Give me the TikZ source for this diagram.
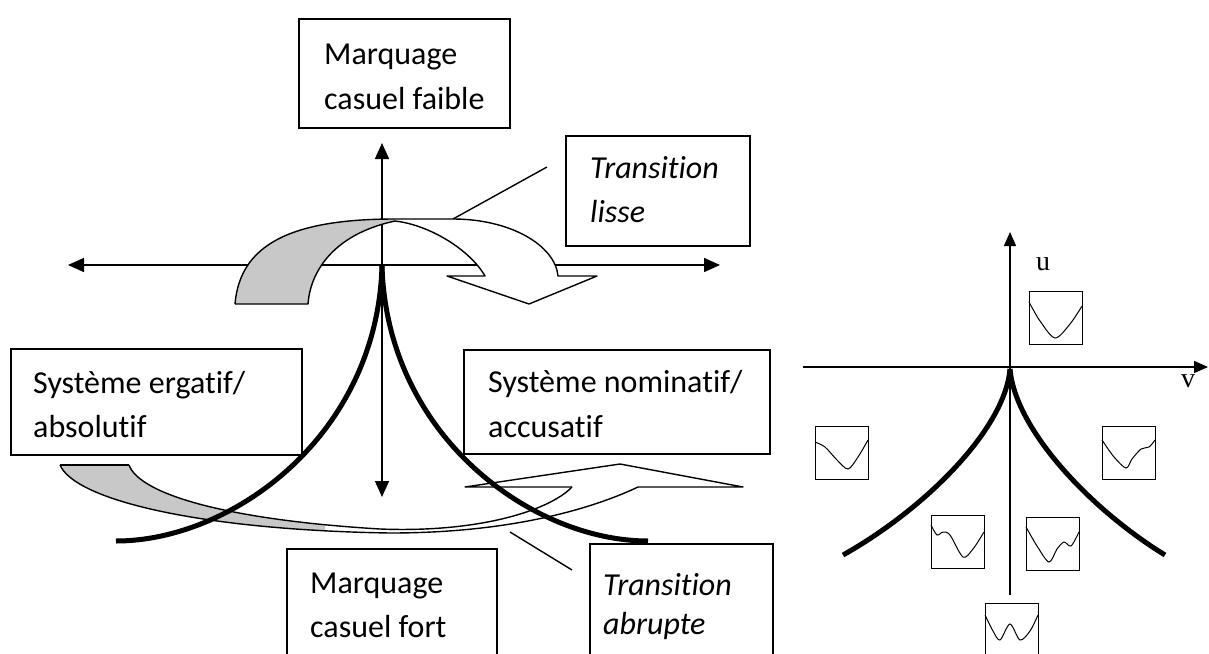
\documentclass[tikz,border=0pt]{standalone}
\usepackage{fontspec}
\setmainfont{Carlito}[Ligatures=NoCommon]
\newfontfamily\serifuv{Liberation Serif}
\usetikzlibrary{arrows.meta}
\definecolor{band}{RGB}{200,200,200}
\begin{document}
\begin{tikzpicture}[x=1pt,y=-1pt,
  frame/.style={draw, line width=1.6pt, inner sep=0pt, outer sep=0pt, anchor=north west},
  lab/.style={anchor=base west, inner sep=0pt, font=\fontsize{32}{44}\selectfont},
  ilab/.style={lab, font=\fontsize{32}{44}\selectfont\itshape},
  axis/.style={line width=1.5pt, {Triangle[length=16pt,width=14pt]}-{Triangle[length=16pt,width=14pt]}},
  raxis/.style={line width=1.5pt, -{Triangle[length=14pt,width=12pt]}},
  thin/.style={line width=1.4pt, line join=round},
  cusp/.style={line width=5pt},
  wbox/.style={draw, line width=1.3pt, minimum width=53pt, minimum height=53pt, inner sep=0pt, anchor=north west},
  pot/.style={line width=1pt}
]
\useasboundingbox (0,0) rectangle (1209,653);

% ---------------- left diagram ----------------
\coordinate (W) at (68,265);
\coordinate (E) at (720,265);
\coordinate (N) at (382,143);
\coordinate (S) at (382,497);
\coordinate (O) at (382,266);
\draw[axis] (W) -- (E);
\draw[axis] (S) -- (N);

% smooth transition arrow (upper)
\fill[band] (235,304) -- (308,304) .. controls (310,275) and (330,235) .. (395,221)
   -- (395,219) .. controls (290,219) and (240,245) .. (235,304) -- cycle;
\draw[thin] (235,304) -- (308,304) .. controls (310,275) and (330,235) .. (395,221);
\draw[thin] (235,304) .. controls (240,245) and (290,219) .. (395,219);
\filldraw[thin, fill=white] (395,219) -- (453,219) .. controls (510,219) and (555,245) .. (558,276)
   -- (597,276) -- (529,304) -- (447,276) -- (485,276)
   .. controls (470,250) and (430,225) .. (395,221);
\coordinate (lisseArc) at (453,219);
\coordinate (lisseEnd) at (547,167);
\draw[thin] (lisseArc) -- (lisseEnd);

% abrupt transition arrow (lower)
\begin{scope}
\clip (0,400) rectangle (325,600);
\fill[band] (60,465) -- (129,465) .. controls (140,495) and (230,520) .. (380,529)
  -- (390,533) .. controls (200,530) and (75,500) .. (60,465) -- cycle;
\end{scope}
\draw[thin] (60,465) -- (129,465);
\draw[thin] (60,465) .. controls (75,500) and (200,530) .. (390,533)
  .. controls (520,533) and (600,505) .. (638,487);
\draw[thin] (129,465) .. controls (140,495) and (230,520) .. (380,529)
  .. controls (480,533) and (550,510) .. (572,487);
\draw[thin] (572,487) -- (465,487) -- (620,464) -- (743,487) -- (638,487);
\coordinate (abrArc) at (510,532);
\coordinate (abrEnd) at (572,570);
\draw[thin] (abrArc) -- (abrEnd);

% cusp
\draw[cusp] (O) .. controls (377,436) and (232,541) .. (116,541);
\draw[cusp] (O) .. controls (387,436) and (532,541) .. (648,541);

% boxes
\node[frame, minimum width=211pt, minimum height=109pt] (faible) at (299,19) {};
\node[lab] (faibleA) at (324,64) {Marquage};
\node[lab] (faibleB) at (324,109) {casuel faible};

\node[frame, minimum width=184pt, minimum height=110pt] (lisse) at (566,136) {};
\node[ilab] (lisseA) at (590,178) {Transition};
\node[ilab] (lisseB) at (590,222) {lisse};

\node[frame, minimum width=291pt, minimum height=106pt] (erg) at (11,349) {};
\node[lab] (ergA) at (33,393) {Système ergatif/};
\node[lab] (ergB) at (33,437) {absolutif};

\node[frame, minimum width=306pt, minimum height=104pt] (nom) at (464,350) {};
\node[lab] (nomA) at (488,392) {Système nominatif/};
\node[lab] (nomB) at (488,437) {accusatif};

\node[frame, minimum width=210pt, minimum height=130pt] (fort) at (287,549) {};
\node[lab] (fortA) at (310,593) {Marquage};
\node[lab] (fortB) at (310,637) {casuel fort};

\node[frame, minimum width=183pt, minimum height=130pt] (abr) at (590,544) {};
\node[ilab] (abrA) at (603,595) {Transition};
\node[ilab] (abrB) at (603,634) {abrupte};

% ---------------- right diagram ----------------
\coordinate (rO) at (1010,367);
\coordinate (rW) at (803,367);
\coordinate (rE) at (1208,367);
\coordinate (rN) at (1010,232);
\coordinate (rS) at (1010,595);
\draw[raxis] (rW) -- (rE);
\draw[raxis] (rS) -- (rN);
\node[anchor=base west, inner sep=0pt, font=\fontsize{28}{30}\serifuv] (u) at (1036,270) {u};
\node[anchor=base west, inner sep=0pt, font=\fontsize{28}{30}\serifuv] (v) at (1181,387) {v};

\draw[cusp] (1010,369) .. controls (1005,429) and (925,509) .. (843,555);
\draw[cusp] (1010,369) .. controls (1015,429) and (1090,509) .. (1165,555);

\begin{scope}[shift={(1029,291)}]
  \node[wbox] (p1) at (0,0) {};
  \draw[pot] plot[smooth] coordinates {(0,11) (11,30) (26,47) (41,33) (53,15)};
\end{scope}
\begin{scope}[shift={(815,426)}]
  \node[wbox] (p2) at (0,0) {};
  \draw[pot] plot[smooth] coordinates {(0,16) (10,21) (22,34) (33,43) (43,31) (53,14)};
\end{scope}
\begin{scope}[shift={(1102,426)}]
  \node[wbox] (p3) at (0,0) {};
  \draw[pot] plot[smooth] coordinates {(0,14) (12,31) (24,42) (30,33) (39,23) (47,21) (53,14)};
\end{scope}
\begin{scope}[shift={(931,515)}]
  \node[wbox] (p4) at (0,0) {};
  \draw[pot] plot[smooth] coordinates {(0,10) (6,20) (12,17) (19,20) (32,42) (42,34) (53,17)};
\end{scope}
\begin{scope}[shift={(1026,517)}]
  \node[wbox] (p5) at (0,0) {};
  \draw[pot] plot[smooth] coordinates {(0,10) (11,29) (23,45) (31,32) (38,25) (45,29) (53,15)};
\end{scope}
\begin{scope}[shift={(985,603)}]
  \node[wbox] (p6) at (0,0) {};
  \draw[pot] plot[smooth] coordinates {(0,12) (8,28) (15,37) (25,21) (35,37) (45,28) (53,12)};
\end{scope}
\end{tikzpicture}
\end{document}
